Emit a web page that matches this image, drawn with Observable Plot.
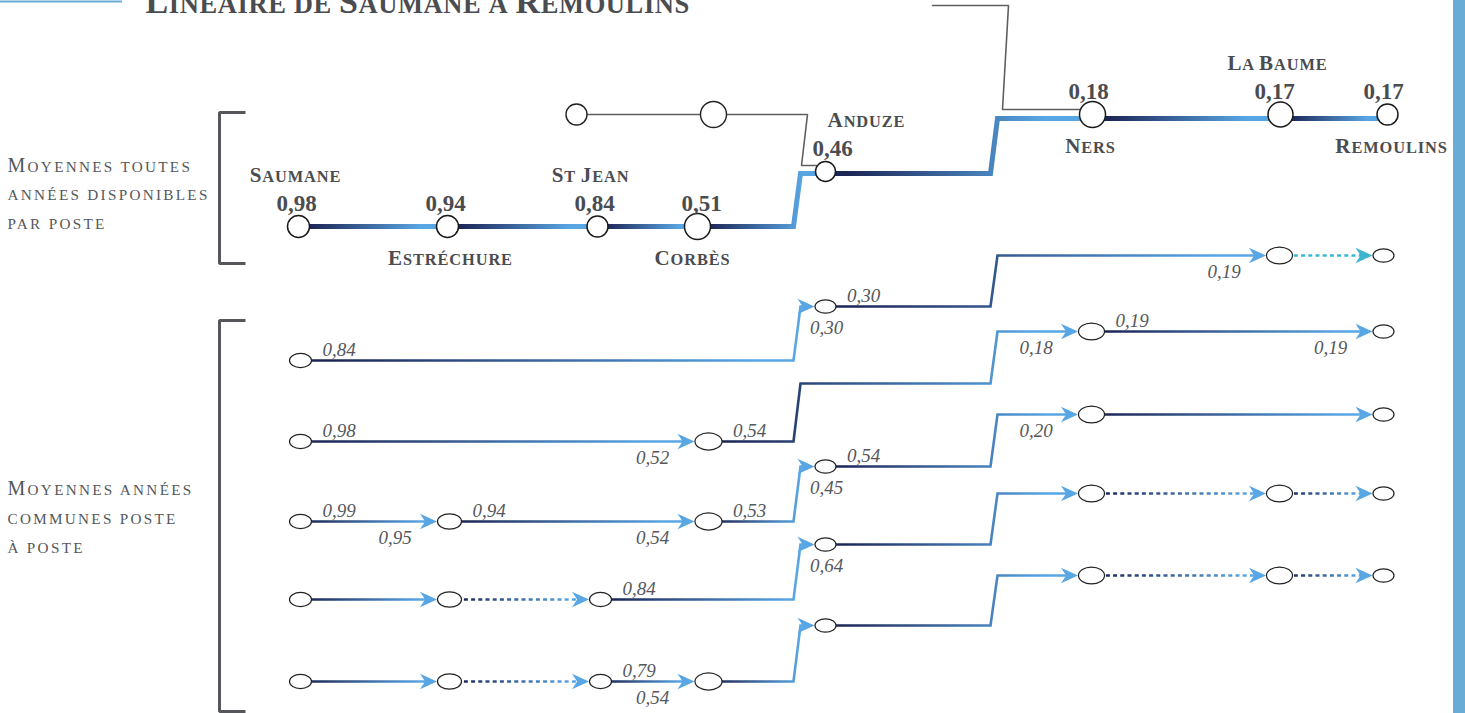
<!DOCTYPE html>
<html><head><meta charset="utf-8">
<script src="https://cdn.jsdelivr.net/npm/d3@7"></script>
<script src="https://cdn.jsdelivr.net/npm/@observablehq/plot@0.6"></script>
<style>
html,body{margin:0;padding:0;background:#fff;overflow:hidden}
svg{display:block}
</style></head><body><div id="chart"></div>
<script>
// ---------------- DATA ----------------
const title = "Linéaire de Saumane à Remoulins";
const stations = ["Saumane", "Estréchure", "St Jean", "Corbès", "Anduze", "Ners", "La Baume", "Remoulins"];
// mean over all available years, per station
const meanAllYears = [0.98, 0.94, 0.84, 0.51, 0.46, 0.18, 0.17, 0.17];
const groupLabelAll = ["Moyennes toutes", "années disponibles", "par poste"];
const groupLabelCommon = ["Moyennes années", "communes poste", "à poste"];
// means over common years, station to station: [from, to, value at from, value at to, kind]
// kind: "solid" = common years, "nodata" = no common years (dashed), "other" = dashed variant
const commonRow1 = [["Saumane", "Anduze", 0.84, 0.30, "solid"], ["Anduze", "La Baume", 0.30, 0.19, "solid"], ["La Baume", "Remoulins", null, null, "other"]];
const commonRow2 = [["Saumane", "Corbès", 0.98, 0.52, "solid"], ["Corbès", "Ners", 0.54, 0.18, "solid"], ["Ners", "Remoulins", 0.19, 0.19, "solid"]];
const commonRow3 = [["Saumane", "Estréchure", 0.99, 0.95, "solid"], ["Estréchure", "Corbès", 0.94, 0.54, "solid"], ["Corbès", "Anduze", 0.53, 0.45, "solid"], ["Anduze", "Ners", 0.54, 0.20, "solid"], ["Ners", "Remoulins", null, null, "solid"]];
const commonRow4 = [["Saumane", "Estréchure", null, null, "solid"], ["Estréchure", "St Jean", null, null, "nodata"], ["St Jean", "Anduze", 0.84, 0.64, "solid"], ["Anduze", "Ners", null, null, "solid"], ["Ners", "La Baume", null, null, "nodata"], ["La Baume", "Remoulins", null, null, "nodata"]];
const commonRow5 = [["Saumane", "Estréchure", null, null, "solid"], ["Estréchure", "St Jean", null, null, "nodata"], ["St Jean", "Corbès", 0.79, 0.54, "solid"], ["Corbès", "Anduze", null, null, "solid"], ["Anduze", "Ners", null, null, "solid"], ["Ners", "La Baume", null, null, "nodata"], ["La Baume", "Remoulins", null, null, "nodata"]];
const commonRows = [commonRow1, commonRow2, commonRow3, commonRow4, commonRow5];

// ---------------- LAYOUT (schematic) ----------------
const W = 1465, H = 713;
const DARK = "#1c2656", LIGHT = "#59a6e4", CYAN = "#3cb6cf", GRAY = "#5e5f62", INK = "#4a4c50";
const colTop = {"Saumane": 298, "Estréchure": 447, "St Jean": 597, "Corbès": 697, "Anduze": 825, "Ners": 1092, "La Baume": 1280, "Remoulins": 1387};
const colRow = {"Saumane": 300, "Estréchure": 449, "St Jean": 600, "Corbès": 708, "Anduze": 825, "Ners": 1091, "La Baume": 1279, "Remoulins": 1383};
const rTop = {"Saumane": 11, "Estréchure": 11, "St Jean": 10.5, "Corbès": 13, "Anduze": 10, "Ners": 13, "La Baume": 12.5, "Remoulins": 10.5};
const rRow = {"Saumane": 11, "Estréchure": 12, "St Jean": 11, "Corbès": 13.5, "Anduze": 10.5, "Ners": 13, "La Baume": 13, "Remoulins": 10.5};
const nameBelow = {"Estréchure": 1, "Corbès": 1, "Ners": 1, "Remoulins": 1};
const nameDx = {"Saumane": -3, "Estréchure": 3, "St Jean": -7, "Corbès": -5, "Anduze": 41, "Ners": -2, "La Baume": -3, "Remoulins": 4};
const valDx = {"Saumane": -2, "Estréchure": -2, "St Jean": -3, "Corbès": 4, "Anduze": 7, "Ners": -4, "La Baume": -6, "Remoulins": -4};
const steps = [[793, 800], [990, 997]];
const levelsTop = [226, 171, 114];
const lineDropTop = [0, 2, 4];   // thick line meets the upper stations a little below their centre
const rowLevels = [[360, 306, 255], [441, 383, 331], [521, 466, 414], [599, 544, 493], [681, 625, 575]];
const stage = s => { const i = stations.indexOf(s); return i < 4 ? 0 : (s === "Anduze" ? 1 : 2); };
const fmt = v => v.toFixed(2).replace(".", ",");

function pathPts(x0, st0, x1, st1, lv) {
  const pts = [{x: x0, y: lv[st0]}];
  for (let k = st0; k < st1; k++) pts.push({x: steps[k][0], y: lv[k]}, {x: steps[k][1], y: lv[k + 1]});
  pts.push({x: x1, y: lv[st1]});
  return pts;
}

// custom symbols
const ellipseSymbol = {draw(ctx, size) {
  const rx = Math.sqrt(size / Math.PI), ry = rx * 0.64, k = 0.5523;
  ctx.moveTo(rx, 0);
  ctx.bezierCurveTo(rx, ry * k, rx * k, ry, 0, ry);
  ctx.bezierCurveTo(-rx * k, ry, -rx, ry * k, -rx, 0);
  ctx.bezierCurveTo(-rx, -ry * k, -rx * k, -ry, 0, -ry);
  ctx.bezierCurveTo(rx * k, -ry, rx, -ry * k, rx, 0);
  ctx.closePath();
}};
const arrowSymbol = {draw(ctx, size) {
  const r = Math.sqrt(size / Math.PI);
  ctx.moveTo(r, 0); ctx.lineTo(-r, -0.92 * r); ctx.lineTo(-0.4 * r, 0); ctx.lineTo(-r, 0.92 * r); ctx.closePath();
}};
const ARROW_R = 8.5;

// ---------------- BUILD ----------------
const segs = [];
const arrows = [];
const nodes = [];
const italicStart = [];
const italicEnd = [];

const topNodes = stations.map((s, i) => ({x: colTop[s], y: levelsTop[stage(s)], r: rTop[s], name: s, v: meanAllYears[i]}));
const topLineLevels = levelsTop.map((y, i) => y + lineDropTop[i]);
for (let i = 0; i < stations.length - 1; i++) {
  const a = stations[i], b = stations[i + 1];
  segs.push({id: "gt" + i, pts: pathPts(colTop[a], stage(a), colTop[b], stage(b), topLineLevels), width: 5, dashed: false, grad: true, top: true});
}
commonRows.forEach((row, ri) => {
  const lv = rowLevels[ri];
  const seen = new Set();
  row.forEach(([from, to, v0, v1, kind], si) => {
    const x0 = colRow[from], x1 = colRow[to], s0 = stage(from), s1 = stage(to);
    const tip = x1 - rRow[to] - 0.5;
    const id = `g${ri}_${si}`;
    segs.push({id, pts: pathPts(x0, s0, tip - 5, s1, lv), width: 2.6, dashed: kind !== "solid", grad: kind !== "other", color: kind === "other" ? CYAN : null});
    arrows.push({x: tip - ARROW_R, y: lv[s1], fill: kind === "other" ? CYAN : LIGHT});
    for (const s of [from, to]) if (!seen.has(s)) { seen.add(s); nodes.push({x: colRow[s], y: lv[stage(s)], r: rRow[s]}); }
    if (v0 != null) italicStart.push({x: x0 + rRow[from] + 11, y: lv[s0] - 5, t: fmt(v0)});
    if (v1 != null) {
      if (s1 === 1 && s0 === 0) italicEnd.push({x: x1 + 1, y: lv[s1] + 27, t: fmt(v1)});
      else italicEnd.push({x: tip - 42, y: lv[s1] + 22, t: fmt(v1)});
    }
  });
});

const serif = "Liberation Serif, Times New Roman, serif";
const lineMarks = segs.map(s => Plot.line(s.pts, {
  x: "x", y: "y",
  stroke: s.grad ? `url(#${s.id})` : s.color,
  strokeWidth: s.width,
  strokeDasharray: s.dashed ? "4,3.2" : undefined,
  strokeLinecap: "butt",
  strokeLinejoin: "miter", strokeMiterlimit: 4
}));

const brackets = [
  [{x: 245, y: 112}, {x: 219, y: 112}, {x: 219, y: 263}, {x: 245, y: 263}],
  [{x: 245, y: 320}, {x: 219, y: 320}, {x: 219, y: 711}, {x: 245, y: 711}]
];
const grayPaths = [
  [{x: 932, y: 5}, {x: 1008, y: 5}, {x: 1002, y: 109}, {x: 1080, y: 109}],
  [{x: 576, y: 114}, {x: 807, y: 114}, {x: 801, y: 165}, {x: 816, y: 165}]
];
const grayNodes = [{x: 576, y: 114, r: 10.5}, {x: 713, y: 114, r: 13}];

const nameTexts = topNodes.map(d => ({x: d.x + nameDx[d.name], y: nameBelow[d.name] ? d.y + 38 : d.y - 45, t: d.name}));
const valueTexts = topNodes.map(d => ({x: d.x + valDx[d.name], y: d.y - 16, t: fmt(d.v)}));
const groupTexts = [
  ...groupLabelAll.map((t, i) => ({x: 7, y: 171 + i * 28.5, t})),
  ...groupLabelCommon.map((t, i) => ({x: 7, y: 494 + i * 29, t}))
];
const italicStyle = {x: "x", y: "y", text: "t", lineAnchor: "bottom", fontFamily: serif, fontSize: 19, fontStyle: "italic", fill: "#55575c"};

const svg = Plot.plot({
  width: W, height: H, margin: 0,
  x: {domain: [0, W], range: [0, W], axis: null},
  y: {domain: [0, H], range: [0, H], axis: null},
  r: {type: "identity"},
  style: {background: "white", overflow: "visible"},
  marks: [
    Plot.rect([0], {x1: 1453, x2: W, y1: 0, y2: H, fill: "#69acd6"}),
    Plot.ruleY([1], {x1: 0, x2: 122, stroke: "#69acd6", strokeWidth: 2}),
    ...brackets.map(b => Plot.line(b, {x: "x", y: "y", stroke: "#55575a", strokeWidth: 3, strokeLinejoin: "miter", strokeLinecap: "butt"})),
    ...grayPaths.map(p => Plot.line(p, {x: "x", y: "y", stroke: GRAY, strokeWidth: 1.6, strokeLinejoin: "miter"})),
    Plot.dot(grayNodes, {x: "x", y: "y", r: "r", fill: "white", stroke: "#222", strokeWidth: 1.4}),
    ...lineMarks,
    Plot.dot(arrows, {x: "x", y: "y", r: () => ARROW_R, symbol: arrowSymbol, fill: "fill", stroke: "none"}),
    Plot.dot(nodes, {x: "x", y: "y", r: "r", symbol: ellipseSymbol, fill: "white", stroke: "#222", strokeWidth: 1.2}),
    Plot.dot(topNodes, {x: "x", y: "y", r: "r", fill: "white", stroke: "#1a1a1a", strokeWidth: 1.5}),
    Plot.text(nameTexts, {x: "x", y: "y", text: "t", lineAnchor: "bottom", textAnchor: "middle", fontFamily: serif, fontSize: 21, fontWeight: "bold", fill: INK, ariaDescription: "station-names"}),
    Plot.text(valueTexts, {x: "x", y: "y", text: "t", lineAnchor: "bottom", textAnchor: "middle", fontFamily: serif, fontSize: 23, fontWeight: "bold", fill: INK}),
    Plot.text(italicStart, {...italicStyle, textAnchor: "start"}),
    Plot.text(italicEnd, {...italicStyle, textAnchor: "middle"}),
    Plot.text(groupTexts, {x: "x", y: "y", text: "t", lineAnchor: "bottom", textAnchor: "start", fontFamily: serif, fontSize: 20, fill: "#55575b", ariaDescription: "group-labels"}),
    Plot.text([title], {x: () => 145, y: () => 12, text: d => d, lineAnchor: "bottom", textAnchor: "start", fontFamily: serif, fontSize: 34, fontWeight: "bold", fill: INK, ariaDescription: "title"})
  ]
});

// gradients (user space, mapped through the plot's x scale)
const sx = svg.scale("x");
const root = d3.select(svg);
const defs = root.insert("defs", ":first-child");
for (const s of segs) {
  if (!s.grad) continue;
  const xs = s.pts.map(p => sx.apply(p.x));
  const g = defs.append("linearGradient").attr("id", s.id).attr("gradientUnits", "userSpaceOnUse")
    .attr("x1", d3.min(xs)).attr("x2", d3.max(xs)).attr("y1", 0).attr("y2", 0);
  const stops = s.top ? [[0, DARK], [0.08, DARK], [0.82, LIGHT], [1, LIGHT]] : [[0, DARK], [0.06, DARK], [0.9, LIGHT], [1, LIGHT]];
  for (const [o, c] of stops) g.append("stop").attr("offset", o).attr("stop-color", c);
}

// typographic small capitals (capitals full size, lower-case letters as reduced capitals)
function smallCaps(selection, ratio) {
  selection.each(function () {
    const t = this.textContent;
    this.textContent = "";
    let run = "", runSmall = null;
    const flush = () => {
      if (!run) return;
      const ts = document.createElementNS("http://www.w3.org/2000/svg", "tspan");
      if (runSmall) ts.setAttribute("font-size", ratio + "em");
      ts.textContent = runSmall ? run.toUpperCase() : run;
      this.appendChild(ts);
      run = "";
    };
    for (const ch of t) {
      const small = ch === " " || (ch.toLowerCase() === ch && ch.toUpperCase() !== ch);
      if (runSmall !== null && small !== runSmall) flush();
      runSmall = small; run += ch;
    }
    flush();
  });
}
const groupOf = name => root.selectAll("g").filter(function () { return this.getAttribute("aria-description") === name; }).selectAll("text");
smallCaps(groupOf("station-names"), 0.78);
smallCaps(groupOf("group-labels"), 0.76);
smallCaps(groupOf("title"), 0.78);
groupOf("group-labels").style("letter-spacing", "2.3px");
groupOf("station-names").style("letter-spacing", "0.9px");
groupOf("title").style("letter-spacing", "0.6px");
document.getElementById("chart").appendChild(svg);
</script></body></html>
